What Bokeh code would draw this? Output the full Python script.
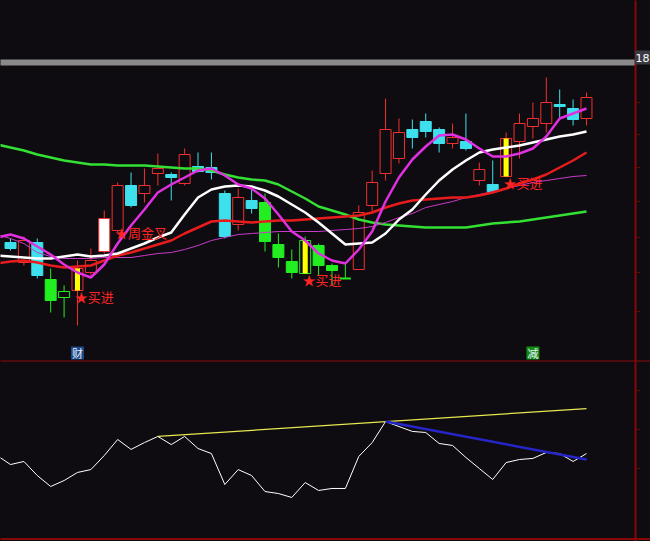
from bokeh.plotting import figure
from bokeh.models import Range1d, GlobalInlineStyleSheet
from bokeh.core.properties import value
from bokeh.embed import file_html
from bokeh.resources import INLINE

BG = "#0e0c10"
FONT = value("Noto Sans CJK SC")

# ---------------- candle data (index 0..43) ----------------
kinds = ["c", "r", "c", "g", "go", "r", "r", "w", "r", "c",
         "r", "r", "c", "r", "c", "c", "c", "r", "c", "g",
         "g", "g", "go", "g", "g", "g", "r", "r", "r", "r",
         "c", "c", "c", "r", "c", "r", "c", "r", "r", "r",
         "r", "c", "c", "r"]
opens = [16.18, 15.98, 16.18, 15.81, 15.63, 15.70, 15.88, 16.09, 16.30, 16.75,
         16.67, 16.87, 16.86, 16.77, 16.94, 16.93, 16.67, 16.36, 16.60, 16.58,
         16.16, 15.99, 15.87, 16.15, 15.95, 15.82, 15.91, 16.55, 16.87, 17.02,
         17.31, 17.39, 17.31, 17.17, 17.19, 16.80, 16.76, 16.84, 17.19, 17.34,
         17.37, 17.56, 17.52, 17.42]
highs = [16.22, 16.24, 16.22, 15.92, 15.75, 16.00, 16.12, 16.50, 16.78, 16.88,
         16.92, 17.07, 16.88, 17.12, 17.08, 17.08, 16.70, 16.72, 16.72, 16.67,
         16.27, 16.11, 16.24, 16.17, 15.97, 15.97, 16.55, 16.90, 17.62, 17.42,
         17.41, 17.47, 17.33, 17.37, 17.47, 16.98, 17.00, 17.28, 17.47, 17.58,
         17.83, 17.71, 17.61, 17.68]
lows = [16.10, 15.95, 15.82, 15.48, 15.43, 15.35, 15.85, 16.07, 16.28, 16.53,
        16.58, 16.75, 16.60, 16.75, 16.88, 16.81, 16.22, 16.30, 16.47, 16.09,
        15.93, 15.82, 15.87, 15.85, 15.75, 15.82, 15.91, 16.48, 16.80, 16.97,
        17.12, 17.23, 17.08, 17.12, 17.10, 16.75, 16.69, 16.84, 17.02, 17.22,
        17.28, 17.43, 17.35, 17.35]
closes = [16.12, 16.20, 15.85, 15.60, 15.69, 15.92, 16.00, 16.42, 16.75, 16.55,
          16.75, 16.92, 16.83, 17.06, 16.89, 16.88, 16.24, 16.63, 16.52, 16.19,
          16.03, 15.88, 16.20, 15.95, 15.90, 15.82, 16.48, 16.78, 17.31, 17.28,
          17.23, 17.29, 17.17, 17.23, 17.12, 16.91, 16.69, 17.22, 17.37, 17.42,
          17.58, 17.54, 17.41, 17.63]
signal_days = [5, 22, 37]          # yellow bars

# ---------------- moving averages (index -1..43) ----------------
ma_x = list(range(-1, 44))
ma_green = [17.16, 17.13, 17.10, 17.06, 17.03, 17.00, 16.98, 16.96, 16.96, 16.95,
            16.95, 16.95, 16.94, 16.93, 16.92, 16.92, 16.90, 16.86, 16.83, 16.81,
            16.80, 16.76, 16.69, 16.62, 16.54, 16.50, 16.46, 16.41, 16.38, 16.36,
            16.35, 16.34, 16.33, 16.33, 16.33, 16.33, 16.35, 16.37, 16.38, 16.39,
            16.41, 16.43, 16.45, 16.47, 16.49]
ma_white = [16.05, 16.04, 16.03, 16.02, 16.02, 16.04, 16.06, 16.04, 16.05, 16.07,
            16.12, 16.17, 16.23, 16.28, 16.46, 16.63, 16.71, 16.74, 16.75, 16.74,
            16.70, 16.64, 16.56, 16.48, 16.38, 16.27, 16.16, 16.17, 16.18, 16.27,
            16.41, 16.51, 16.66, 16.80, 16.91, 17.00, 17.08, 17.11, 17.13, 17.15,
            17.18, 17.21, 17.24, 17.26, 17.29]
ma_red = [15.97, 15.99, 16.00, 15.98, 15.95, 15.93, 15.94, 15.95, 16.00, 16.05,
          16.08, 16.12, 16.16, 16.20, 16.27, 16.33, 16.39, 16.40, 16.39, 16.38,
          16.39, 16.40, 16.40, 16.41, 16.42, 16.43, 16.44, 16.45, 16.48, 16.53,
          16.57, 16.60, 16.61, 16.62, 16.63, 16.63, 16.65, 16.68, 16.72, 16.77,
          16.81, 16.86, 16.93, 17.00, 17.08]
ma_violet = [16.26, 16.22, 16.17, 16.08, 16.04, 16.02, 16.02, 16.02, 16.03, 16.03,
             16.03, 16.05, 16.07, 16.08, 16.11, 16.15, 16.20, 16.23, 16.26, 16.27,
             16.28, 16.29, 16.29, 16.29, 16.29, 16.30, 16.31, 16.32, 16.34, 16.38,
             16.43, 16.47, 16.53, 16.56, 16.59, 16.63, 16.66, 16.69, 16.72, 16.75,
             16.78, 16.80, 16.82, 16.84, 16.85]
ma_magenta = [16.23, 16.26, 16.22, 16.14, 16.06, 15.96, 15.88, 15.83, 15.96, 16.17,
              16.35, 16.51, 16.68, 16.76, 16.83, 16.90, 16.92, 16.85, 16.76, 16.72,
              16.62, 16.46, 16.29, 16.20, 16.07, 16.00, 15.97, 16.11, 16.29, 16.59,
              16.83, 17.01, 17.14, 17.25, 17.26, 17.21, 17.12, 17.04, 17.04, 17.07,
              17.12, 17.24, 17.42, 17.47, 17.52]

# ---------------- indicator pane ----------------
ind_vals = [47.2, 42.2, 43.9, 36.1, 30.0, 33.3, 37.8, 39.4, 47.2, 56.1,
            50.6, 54.4, 57.8, 53.3, 57.8, 51.1, 48.3, 31.1, 39.4, 36.1,
            27.2, 26.1, 23.9, 32.2, 27.8, 28.9, 28.9, 46.7, 54.4, 66.1,
            63.3, 60.6, 60.0, 53.9, 52.8, 46.1, 40.0, 33.9, 43.3, 45.0,
            45.6, 48.9, 48.3, 43.9, 48.3]
upper_trend_x = [11, 43]
upper_trend_v = [57.8, 73.3]
lower_trend_x = [28, 43]
lower_trend_v = [66.1, 45.0]

# ---------------- annotations ----------------
signal_labels = [(5, "★买进"), (8, "★周金叉"), (22, "★买进"), (37, "★买进")]
signal_dy = [0.06, 0.02, 0.06, 0.06]
event_idx = [5, 39]
event_text = ["财", "减"]
event_bg = ["#1d4a86", "#118c11"]
event_row = 15.075
ref_price = 17.98
ref_label = "18"
price_ticks = [17.58, 17.26, 16.93, 16.59, 16.23, 15.88, 15.49]
ind_ticks = [83.3, 61.7, 40.0]
pane_split = 14.995
pane_bottom = 0.85
axis_x = 46.66

# ---------------- figure ----------------
p = figure(width=650, height=541, output_backend="svg", toolbar_location=None,
           x_range=Range1d(-0.7465, 47.779), y_range=Range1d(13.19, 18.60),
           x_axis_location=None, y_axis_location=None, min_border=0,
           background_fill_color=BG, border_fill_color=BG, outline_line_color=None)
p.grid.visible = False
p.extra_y_ranges = {"ind": Range1d(-0.556, 300.0)}
p.stylesheets = [GlobalInlineStyleSheet(css="html, body { background-color: #0e0c10; }")]

RED = "#f03030"
CYAN = "#3ee0ee"
GREEN = "#22ee22"

col_map = {"r": RED, "w": RED, "c": CYAN, "g": GREEN, "go": GREEN}
fill_map = {"r": None, "w": "#ffffff", "c": CYAN, "g": GREEN, "go": None}

n = len(opens)
xs = list(range(n))
tops = [max(o, c) for o, c in zip(opens, closes)]
bots = [min(o, c) for o, c in zip(opens, closes)]
cols = [col_map[k] for k in kinds]

# wicks
p.segment(x0=xs, y0=highs, x1=xs, y1=tops, line_color=cols, line_width=1)
p.segment(x0=xs, y0=bots, x1=xs, y1=lows, line_color=cols, line_width=1)

# bodies
for k in col_map:
    ids = [i for i in xs if kinds[i] == k and tops[i] != bots[i]]
    if not ids:
        continue
    p.quad(left=[i - 0.41 for i in ids], right=[i + 0.41 for i in ids],
           top=[tops[i] for i in ids], bottom=[bots[i] for i in ids],
           fill_color=fill_map[k], line_color=col_map[k], line_width=1)
doji = [i for i in xs if tops[i] == bots[i]]
p.segment(x0=[i - 0.41 for i in doji], x1=[i + 0.41 for i in doji],
          y0=[tops[i] for i in doji], y1=[tops[i] for i in doji],
          line_color=[cols[i] for i in doji], line_width=2)

# yellow signal bars
p.quad(left=[i - 0.19 for i in signal_days], right=[i + 0.19 for i in signal_days],
       top=[tops[i] for i in signal_days], bottom=[bots[i] for i in signal_days],
       fill_color="#ffff00", line_color=None)

# moving averages
p.line(ma_x, ma_green, line_color="#33e033", line_width=2.5)
p.line(ma_x, ma_violet, line_color="#c83cc8", line_width=1)
p.line(ma_x, ma_red, line_color="#e81c1c", line_width=2.5)
p.line(ma_x, ma_white, line_color="#ffffff", line_width=2.5)
p.line(ma_x, ma_magenta, line_color="#e030e0", line_width=2.5)

# signal texts
p.text(x=[i - 0.2 for i, _ in signal_labels],
       y=[bots[i] - d for (i, _), d in zip(signal_labels, signal_dy)],
       text=[t for _, t in signal_labels], text_color="#ff2424",
       text_font=FONT, text_font_size="13px", text_baseline="middle", text_align="left")

# event markers
p.rect(x=event_idx, y=[event_row] * 2, width=13, height=13, width_units="screen",
       height_units="screen", fill_color=event_bg, line_color=None)
p.text(x=event_idx, y=[event_row] * 2, text=event_text, text_color="#e8f0ff",
       text_font=FONT, text_font_size="11px", text_baseline="middle", text_align="center")

# reference price bar
p.line([-1, axis_x], [ref_price, ref_price], line_color="#8a8a8a", line_width=6)

# frame lines
p.line([-1, 48], [pane_split, pane_split], line_color="#8c0a0a", line_width=1)
p.line([-1, 48], [pane_bottom, pane_bottom], line_color="#860808", line_width=2,
       y_range_name="ind")
p.line([axis_x, axis_x], [13.0, 19.0], line_color="#860808", line_width=2)
p.segment(x0=[axis_x] * len(price_ticks), x1=[axis_x + 0.35] * len(price_ticks),
          y0=price_ticks, y1=price_ticks, line_color="#6a0808", line_width=1)
p.segment(x0=[axis_x] * len(ind_ticks), x1=[axis_x + 0.35] * len(ind_ticks),
          y0=ind_ticks, y1=ind_ticks, line_color="#6a0808", line_width=1,
          y_range_name="ind")

# price label
p.rect(x=[47.22], y=[ref_price + 0.05], width=16, height=14, width_units="screen",
       height_units="screen", fill_color="#3a3a42", line_color=None)
p.text(x=[46.66], y=[ref_price + 0.05], text=[ref_label], text_color="#ffffff",
       text_font=value("DejaVu Sans"), text_font_size="11px",
       text_baseline="middle", text_align="left")

# indicator pane
p.line(ma_x, ind_vals, line_color="#ffffff", line_width=1, y_range_name="ind")
p.line(upper_trend_x, upper_trend_v, line_color="#e8e850", line_width=1.3, y_range_name="ind")
p.line(lower_trend_x, lower_trend_v, line_color="#2626c8", line_width=2.5, y_range_name="ind")

open("out.html", "w").write(file_html(p, INLINE))
